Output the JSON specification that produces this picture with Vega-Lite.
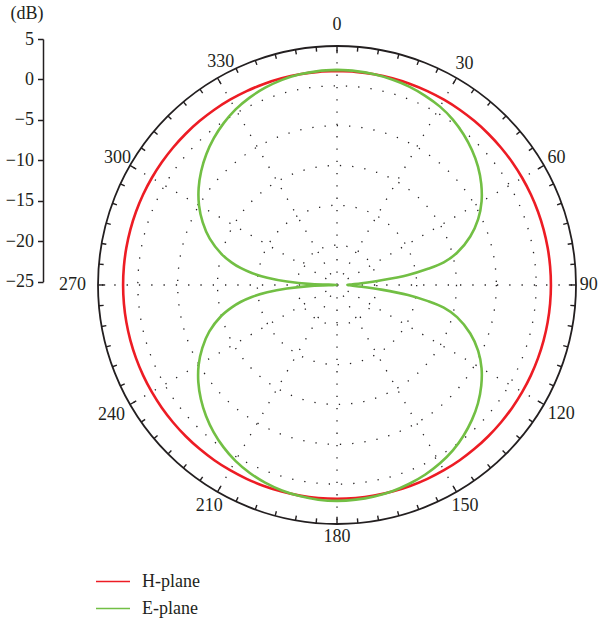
{
"$schema": "https://vega.github.io/schema/vega-lite/v6.json",
"width": 600, "height": 627, "padding": 0, "autosize": {"type": "none"},
"background": "white",
"config": {"view": {"stroke": null}},
"datasets": {
"pattern": [
{"plane":"H-plane","angle":0,"dB":1.85},{"plane":"H-plane","angle":5,"dB":1.85},{"plane":"H-plane","angle":10,"dB":1.85},{"plane":"H-plane","angle":15,"dB":1.85},{"plane":"H-plane","angle":20,"dB":1.85},{"plane":"H-plane","angle":25,"dB":1.85},{"plane":"H-plane","angle":30,"dB":1.85},{"plane":"H-plane","angle":35,"dB":1.85},{"plane":"H-plane","angle":40,"dB":1.85},{"plane":"H-plane","angle":45,"dB":1.85},{"plane":"H-plane","angle":50,"dB":1.85},{"plane":"H-plane","angle":55,"dB":1.85},{"plane":"H-plane","angle":60,"dB":1.85},
{"plane":"H-plane","angle":65,"dB":1.85},{"plane":"H-plane","angle":70,"dB":1.85},{"plane":"H-plane","angle":75,"dB":1.85},{"plane":"H-plane","angle":80,"dB":1.85},{"plane":"H-plane","angle":85,"dB":1.85},{"plane":"H-plane","angle":90,"dB":1.85},{"plane":"H-plane","angle":95,"dB":1.85},{"plane":"H-plane","angle":100,"dB":1.85},{"plane":"H-plane","angle":105,"dB":1.85},{"plane":"H-plane","angle":110,"dB":1.85},{"plane":"H-plane","angle":115,"dB":1.85},{"plane":"H-plane","angle":120,"dB":1.85},
{"plane":"H-plane","angle":125,"dB":1.85},{"plane":"H-plane","angle":130,"dB":1.85},{"plane":"H-plane","angle":135,"dB":1.85},{"plane":"H-plane","angle":140,"dB":1.85},{"plane":"H-plane","angle":145,"dB":1.85},{"plane":"H-plane","angle":150,"dB":1.85},{"plane":"H-plane","angle":155,"dB":1.85},{"plane":"H-plane","angle":160,"dB":1.85},{"plane":"H-plane","angle":165,"dB":1.85},{"plane":"H-plane","angle":170,"dB":1.85},{"plane":"H-plane","angle":175,"dB":1.85},{"plane":"H-plane","angle":180,"dB":1.85},{"plane":"H-plane","angle":185,"dB":1.85},{"plane":"H-plane","angle":190,"dB":1.85},{"plane":"H-plane","angle":195,"dB":1.85},{"plane":"H-plane","angle":200,"dB":1.85},{"plane":"H-plane","angle":205,"dB":1.85},{"plane":"H-plane","angle":210,"dB":1.85},{"plane":"H-plane","angle":215,"dB":1.85},{"plane":"H-plane","angle":220,"dB":1.85},{"plane":"H-plane","angle":225,"dB":1.85},{"plane":"H-plane","angle":230,"dB":1.85},{"plane":"H-plane","angle":235,"dB":1.85},
{"plane":"H-plane","angle":240,"dB":1.85},{"plane":"H-plane","angle":245,"dB":1.85},{"plane":"H-plane","angle":250,"dB":1.85},{"plane":"H-plane","angle":255,"dB":1.85},{"plane":"H-plane","angle":260,"dB":1.85},{"plane":"H-plane","angle":265,"dB":1.85},{"plane":"H-plane","angle":270,"dB":1.85},{"plane":"H-plane","angle":275,"dB":1.85},{"plane":"H-plane","angle":280,"dB":1.85},{"plane":"H-plane","angle":285,"dB":1.85},{"plane":"H-plane","angle":290,"dB":1.85},{"plane":"H-plane","angle":295,"dB":1.85},{"plane":"H-plane","angle":300,"dB":1.85},
{"plane":"H-plane","angle":305,"dB":1.85},{"plane":"H-plane","angle":310,"dB":1.85},{"plane":"H-plane","angle":315,"dB":1.85},{"plane":"H-plane","angle":320,"dB":1.85},{"plane":"H-plane","angle":325,"dB":1.85},{"plane":"H-plane","angle":330,"dB":1.85},{"plane":"H-plane","angle":335,"dB":1.85},{"plane":"H-plane","angle":340,"dB":1.85},{"plane":"H-plane","angle":345,"dB":1.85},{"plane":"H-plane","angle":350,"dB":1.85},{"plane":"H-plane","angle":355,"dB":1.85},{"plane":"H-plane","angle":360,"dB":1.85},
{"plane":"E-plane","angle":0,"dB":2.0},{"plane":"E-plane","angle":5,"dB":1.95},{"plane":"E-plane","angle":10,"dB":1.85},{"plane":"E-plane","angle":15,"dB":1.7},{"plane":"E-plane","angle":20,"dB":1.5},{"plane":"E-plane","angle":25,"dB":1.2},{"plane":"E-plane","angle":30,"dB":0.85},{"plane":"E-plane","angle":35,"dB":0.35},{"plane":"E-plane","angle":40,"dB":-0.3},{"plane":"E-plane","angle":45,"dB":-1.05},{"plane":"E-plane","angle":50,"dB":-1.9},{"plane":"E-plane","angle":55,"dB":-2.9},{"plane":"E-plane","angle":60,"dB":-4.05},{"plane":"E-plane","angle":65,"dB":-5.45},{"plane":"E-plane","angle":70,"dB":-7.2},{"plane":"E-plane","angle":75,"dB":-9.4},{"plane":"E-plane","angle":78,"dB":-11.3},{"plane":"E-plane","angle":80,"dB":-13.5},{"plane":"E-plane","angle":82,"dB":-16.0},{"plane":"E-plane","angle":84,"dB":-19.4},{"plane":"E-plane","angle":86,"dB":-21.9},{"plane":"E-plane","angle":88,"dB":-23.2},{"plane":"E-plane","angle":90,"dB":-23.7},
{"plane":"E-plane","angle":92,"dB":-23.2},{"plane":"E-plane","angle":94,"dB":-21.9},{"plane":"E-plane","angle":96,"dB":-19.4},{"plane":"E-plane","angle":98,"dB":-16.0},{"plane":"E-plane","angle":100,"dB":-13.5},{"plane":"E-plane","angle":102,"dB":-11.3},{"plane":"E-plane","angle":105,"dB":-9.4},{"plane":"E-plane","angle":110,"dB":-7.2},{"plane":"E-plane","angle":115,"dB":-5.45},{"plane":"E-plane","angle":120,"dB":-4.05},{"plane":"E-plane","angle":125,"dB":-2.9},{"plane":"E-plane","angle":130,"dB":-1.9},{"plane":"E-plane","angle":135,"dB":-1.05},{"plane":"E-plane","angle":140,"dB":-0.3},{"plane":"E-plane","angle":145,"dB":0.35},{"plane":"E-plane","angle":150,"dB":0.85},{"plane":"E-plane","angle":155,"dB":1.25},{"plane":"E-plane","angle":160,"dB":1.55},{"plane":"E-plane","angle":165,"dB":1.8},{"plane":"E-plane","angle":170,"dB":1.95},{"plane":"E-plane","angle":175,"dB":2.05},{"plane":"E-plane","angle":180,"dB":2.1},
{"plane":"E-plane","angle":185,"dB":2.05},{"plane":"E-plane","angle":190,"dB":1.9},{"plane":"E-plane","angle":195,"dB":1.7},{"plane":"E-plane","angle":200,"dB":1.4},{"plane":"E-plane","angle":205,"dB":1.0},{"plane":"E-plane","angle":210,"dB":0.5},{"plane":"E-plane","angle":215,"dB":-0.15},{"plane":"E-plane","angle":220,"dB":-0.9},{"plane":"E-plane","angle":225,"dB":-1.75},{"plane":"E-plane","angle":230,"dB":-2.7},{"plane":"E-plane","angle":235,"dB":-3.75},{"plane":"E-plane","angle":240,"dB":-4.95},{"plane":"E-plane","angle":245,"dB":-6.35},{"plane":"E-plane","angle":250,"dB":-7.95},{"plane":"E-plane","angle":255,"dB":-9.95},{"plane":"E-plane","angle":258,"dB":-11.5},{"plane":"E-plane","angle":260,"dB":-12.7},{"plane":"E-plane","angle":262,"dB":-14.2},{"plane":"E-plane","angle":264,"dB":-16.2},{"plane":"E-plane","angle":266,"dB":-18.7},{"plane":"E-plane","angle":268,"dB":-21.8},{"plane":"E-plane","angle":270,"dB":-25},
{"plane":"E-plane","angle":272,"dB":-21.8},{"plane":"E-plane","angle":274,"dB":-18.7},{"plane":"E-plane","angle":276,"dB":-16.2},{"plane":"E-plane","angle":278,"dB":-14.2},{"plane":"E-plane","angle":280,"dB":-12.7},{"plane":"E-plane","angle":282,"dB":-11.5},{"plane":"E-plane","angle":285,"dB":-10.0},{"plane":"E-plane","angle":290,"dB":-8.0},{"plane":"E-plane","angle":295,"dB":-6.4},{"plane":"E-plane","angle":300,"dB":-5.0},{"plane":"E-plane","angle":305,"dB":-3.8},{"plane":"E-plane","angle":310,"dB":-2.75},{"plane":"E-plane","angle":315,"dB":-1.8},{"plane":"E-plane","angle":320,"dB":-0.95},{"plane":"E-plane","angle":325,"dB":-0.2},{"plane":"E-plane","angle":330,"dB":0.45},{"plane":"E-plane","angle":335,"dB":0.95},{"plane":"E-plane","angle":340,"dB":1.35},{"plane":"E-plane","angle":345,"dB":1.65},{"plane":"E-plane","angle":350,"dB":1.85},{"plane":"E-plane","angle":355,"dB":1.95},{"plane":"E-plane","angle":360,"dB":2.0}
],
"rings": [{"dB":-20},{"dB":-15},{"dB":-10},{"dB":-5},{"dB":0}],
"spokes": [{"angle":0},{"angle":30},{"angle":60},{"angle":90},{"angle":120},{"angle":150},{"angle":180},{"angle":210},{"angle":240},{"angle":270},{"angle":300},{"angle":330}],
"ticks": [{"angle":0},{"angle":5},{"angle":10},{"angle":15},{"angle":20},{"angle":25},{"angle":30},{"angle":35},{"angle":40},{"angle":45},{"angle":50},{"angle":55},{"angle":60},{"angle":65},{"angle":70},{"angle":75},{"angle":80},{"angle":85},{"angle":90},{"angle":95},{"angle":100},{"angle":105},{"angle":110},{"angle":115},{"angle":120},{"angle":125},{"angle":130},{"angle":135},{"angle":140},{"angle":145},{"angle":150},{"angle":155},{"angle":160},{"angle":165},{"angle":170},{"angle":175},{"angle":180},{"angle":185},{"angle":190},{"angle":195},{"angle":200},{"angle":205},{"angle":210},{"angle":215},{"angle":220},{"angle":225},{"angle":230},{"angle":235},{"angle":240},{"angle":245},{"angle":250},{"angle":255},{"angle":260},{"angle":265},{"angle":270},{"angle":275},{"angle":280},{"angle":285},{"angle":290},{"angle":295},{"angle":300},{"angle":305},{"angle":310},{"angle":315},{"angle":320},{"angle":325},{"angle":330},{"angle":335},{"angle":340},{"angle":345},{"angle":350},{"angle":355}],
"axisrange": [{"dB":-25},{"dB":5}],
"outer": [{"dB":5}]
},
"resolve": {"scale": {"y": "independent"}, "axis": {"y": "independent"}},
"layer": [
{
"data": {"name": "axisrange"},
"mark": {"type": "point", "opacity": 0},
"encoding": {
"y": {"field": "dB", "type": "quantitative",
"scale": {"domain": [-25, 5], "range": [281.7, 39], "nice": false, "zero": false},
"axis": {"values": [-25,-20,-15,-10,-5,0,5], "offset": -43, "orient": "left", "grid": false,
"tickSize": 5.5, "tickWidth": 1.5, "tickColor": "#231f20", "domainColor": "#231f20", "domainWidth": 1.5,
"labelFont": "Liberation Serif", "labelFontSize": 18, "labelColor": "#231f20", "labelPadding": 4,
"labelFlush": false, "labelOverlap": false, "labelBound": false,
"title": "(dB)", "titleFont": "Liberation Serif", "titleFontSize": 18, "titleFontWeight": "normal", "titleColor": "#231f20",
"titleAngle": 0, "titleAlign": "left", "titleBaseline": "middle", "titleX": -33, "titleY": 13}}
}
},
{
"layer": [
{
"data": {"name": "rings"},
"transform": [{"calculate": "0", "as": "cx"}, {"calculate": "datum.dB + 25", "as": "u"}],
"mark": {"type": "point", "shape": "circle", "filled": false, "stroke": "#231f20", "strokeWidth": 1.3, "strokeDash": [1.3, 11], "opacity": 1},
"encoding": {
"x": {"field": "cx", "type": "quantitative", "scale": {"domain": [-42.30, 33.01], "nice": false, "zero": false}, "axis": null},
"y": {"field": "cx", "type": "quantitative", "scale": {"domain": [-42.93, 35.77], "nice": false, "zero": false}, "axis": null},
"size": {"field": "u", "type": "quantitative", "scale": {"type": "pow", "exponent": 2, "domain": [0, 30], "range": [0, 228484], "nice": false, "zero": false}, "legend": null}
}
},
{
"data": {"name": "outer"},
"transform": [{"calculate": "0", "as": "cx"}, {"calculate": "datum.dB + 25", "as": "u"}],
"mark": {"type": "point", "shape": "circle", "filled": false, "stroke": "#231f20", "strokeWidth": 1.8, "opacity": 1},
"encoding": {
"x": {"field": "cx", "type": "quantitative", "scale": {"domain": [-42.30, 33.01], "nice": false, "zero": false}, "axis": null},
"y": {"field": "cx", "type": "quantitative", "scale": {"domain": [-42.93, 35.77], "nice": false, "zero": false}, "axis": null},
"size": {"field": "u", "type": "quantitative", "scale": {"type": "pow", "exponent": 2, "domain": [0, 30], "range": [0, 228484], "nice": false, "zero": false}, "legend": null}
}
},
{
"data": {"name": "spokes"},
"transform": [
{"calculate": "0", "as": "cx"},
{"calculate": "30*sin(datum.angle*PI/180)", "as": "sx"},
{"calculate": "30*cos(datum.angle*PI/180)", "as": "sy"}
],
"mark": {"type": "rule", "stroke": "#231f20", "strokeWidth": 1.3, "strokeDash": [1.3, 11]},
"encoding": {
"x": {"field": "cx", "type": "quantitative", "scale": {"domain": [-42.30, 33.01], "nice": false, "zero": false}, "axis": null},
"y": {"field": "cx", "type": "quantitative", "scale": {"domain": [-42.93, 35.77], "nice": false, "zero": false}, "axis": null},
"x2": {"field": "sx"},
"y2": {"field": "sy"}
}
},
{
"data": {"name": "ticks"},
"transform": [
{"calculate": "datum.angle % 30 == 0 ? 29.1 : 29.4", "as": "rin"},
{"calculate": "30*sin(datum.angle*PI/180)", "as": "tx"},
{"calculate": "30*cos(datum.angle*PI/180)", "as": "ty"},
{"calculate": "datum.rin*sin(datum.angle*PI/180)", "as": "tx2"},
{"calculate": "datum.rin*cos(datum.angle*PI/180)", "as": "ty2"}
],
"mark": {"type": "rule", "stroke": "#231f20", "strokeWidth": 1.4},
"encoding": {
"x": {"field": "tx", "type": "quantitative", "scale": {"domain": [-42.30, 33.01], "nice": false, "zero": false}, "axis": null},
"y": {"field": "ty", "type": "quantitative", "scale": {"domain": [-42.93, 35.77], "nice": false, "zero": false}, "axis": null},
"x2": {"field": "tx2"},
"y2": {"field": "ty2"}
}
},
{
"data": {"name": "spokes"},
"transform": [
{"calculate": "datum.angle == 0 ? 32.6 : datum.angle == 30 ? 32.0 : datum.angle == 60 ? 31.8 : datum.angle == 90 ? 31.6 : datum.angle == 120 ? 32.5 : datum.angle == 150 ? 32.1 : datum.angle == 180 ? 31.6 : datum.angle == 210 ? 32.1 : datum.angle == 240 ? 32.7 : datum.angle == 270 ? 33.2 : datum.angle == 300 ? 31.8 : 31.6", "as": "lr"},
{"calculate": "datum.angle == 330 ? 332.5 : datum.angle", "as": "la"},
{"calculate": "datum.lr*sin(datum.la*PI/180)", "as": "lx"},
{"calculate": "datum.lr*cos(datum.la*PI/180)", "as": "ly"}
],
"mark": {"type": "text", "font": "Liberation Serif", "fontSize": 18, "color": "#231f20", "align": "center", "baseline": "middle"},
"encoding": {
"x": {"field": "lx", "type": "quantitative", "scale": {"domain": [-42.30, 33.01], "nice": false, "zero": false}, "axis": null},
"y": {"field": "ly", "type": "quantitative", "scale": {"domain": [-42.93, 35.77], "nice": false, "zero": false}, "axis": null},
"text": {"field": "angle", "type": "nominal"}
}
},
{
"data": {"name": "pattern"},
"transform": [
{"calculate": "(max(datum.dB,-25)+25)*sin(datum.angle*PI/180)", "as": "px"},
{"calculate": "(max(datum.dB,-25)+25)*cos(datum.angle*PI/180)", "as": "py"}
],
"mark": {"type": "line", "strokeWidth": 2.6, "interpolate": "catmull-rom"},
"encoding": {
"x": {"field": "px", "type": "quantitative", "scale": {"domain": [-42.30, 33.01], "nice": false, "zero": false}, "axis": null},
"y": {"field": "py", "type": "quantitative", "scale": {"domain": [-42.93, 35.77], "nice": false, "zero": false}, "axis": null},
"order": {"field": "angle", "type": "quantitative"},
"color": {"field": "plane", "type": "nominal",
"scale": {"domain": ["H-plane", "E-plane"], "range": ["#ed1c24", "#72bf44"]},
"legend": {"orient": "none", "legendX": 95, "legendY": 563.5, "title": null, "direction": "vertical",
"symbolType": "stroke", "symbolSize": 1156, "symbolStrokeWidth": 1.7,
"labelFont": "Liberation Serif", "labelFontSize": 18, "labelColor": "#231f20", "labelOffset": 11,
"rowPadding": 0, "padding": 0}}
}
}
]
}
]
}
